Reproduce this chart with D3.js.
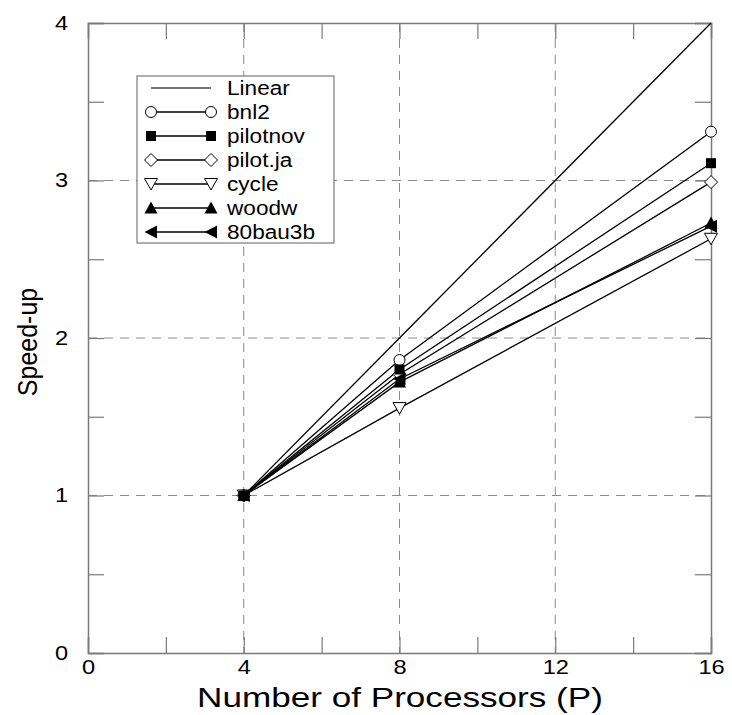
<!DOCTYPE html>
<html>
<head>
<meta charset="utf-8">
<script src="https://cdn.jsdelivr.net/npm/d3@7"></script>
<style>
  body { margin: 0; background: #fff; }
  text { font-family: "Liberation Sans", Arial, sans-serif; fill: #000; }
</style>
</head>
<body>
<script>
// processors and speed-up per problem
const procs = [4, 8, 16];
const linear = [1, 2, 4];
const bnl2 = [1, 1.86, 3.31];
const pilotnov = [1, 1.80, 3.11];
const pilotja = [1, 1.77, 2.99];
const cycle = [1, 1.555, 2.63];
const woodw = [1, 1.72, 2.73];
const bau = [1, 1.74, 2.71];

const xTicks = [0, 4, 8, 12, 16];
const yTicks = [0, 1, 2, 3, 4];

const series = [
    { name: "Linear", vals: linear, sym: null },
    { name: "bnl2", vals: bnl2, sym: "circle" },
    { name: "pilotnov", vals: pilotnov, sym: "square" },
    { name: "pilot.ja", vals: pilotja, sym: "diamond" },
    { name: "cycle", vals: cycle, sym: "tridown" },
    { name: "woodw", vals: woodw, sym: "triup" },
    { name: "80bau3b", vals: bau, sym: "trileft" }
];

const W = 732, H = 715;
const mLeft = 88, mRight = 711, mTop = 23, mBottom = 653;

let svg = d3.select("body").append("svg")
    .attr("width", W)
    .attr("height", H);

let x = d3.scaleLinear().domain([0, 16]).range([mLeft, mRight]);
let y = d3.scaleLinear().domain([0, 4]).range([mBottom, mTop]);

const axisCol = "#7a7a7a";
const gridCol = "#8a8a8a";

// dashed grid at the major values
svg.append("g").selectAll("line")
    .data([4, 8, 12])
    .enter().append("line")
    .attr("x1", d => x(d)).attr("x2", d => x(d))
    .attr("y1", mTop).attr("y2", mBottom)
    .attr("stroke", gridCol).attr("stroke-width", 1)
    .attr("stroke-dasharray", "9,7");
svg.append("g").selectAll("line")
    .data([1, 2, 3])
    .enter().append("line")
    .attr("x1", mLeft).attr("x2", mRight)
    .attr("y1", d => y(d)).attr("y2", d => y(d))
    .attr("stroke", gridCol).attr("stroke-width", 1)
    .attr("stroke-dasharray", "9,7");

// axes: inward ticks on all four sides
const tickLen = 16;
let xb = svg.append("g").attr("transform", `translate(0,${mBottom})`)
    .call(d3.axisBottom(x).tickValues(d3.range(0, 17, 2)).tickSize(-tickLen).tickPadding(7)
        .tickFormat(d => xTicks.includes(d) ? d : ""));
let xt = svg.append("g").attr("transform", `translate(0,${mTop})`)
    .call(d3.axisTop(x).tickValues(d3.range(0, 17, 2)).tickSize(-tickLen).tickFormat(""));
let yl = svg.append("g").attr("transform", `translate(${mLeft},0)`)
    .call(d3.axisLeft(y).tickValues(d3.range(0, 4.01, 0.5)).tickSize(-tickLen).tickPadding(20)
        .tickFormat(d => yTicks.includes(d) ? d : ""));
let yr = svg.append("g").attr("transform", `translate(${mRight},0)`)
    .call(d3.axisRight(y).tickValues(d3.range(0, 4.01, 0.5)).tickSize(-tickLen).tickFormat(""));

[xb, xt, yl, yr].forEach(g => {
    g.select(".domain").attr("stroke", axisCol).attr("stroke-width", 1.5);
    g.selectAll(".tick line").attr("stroke", axisCol).attr("stroke-width", 1.2);
    g.selectAll(".tick text").style("font-size", "20px").attr("fill", "#000")
        .style("font-family", '"Liberation Sans", Arial, sans-serif');
});

// symbols
function drawSym(g, sym, cx, cy) {
    if (sym === "circle") {
        g.append("circle").attr("cx", cx).attr("cy", cy).attr("r", 5.5)
            .attr("fill", "#fff").attr("stroke", "#000").attr("stroke-width", 1);
    } else if (sym === "square") {
        g.append("rect").attr("x", cx - 5).attr("y", cy - 5).attr("width", 10).attr("height", 10)
            .attr("fill", "#000");
    } else if (sym === "diamond") {
        g.append("path").attr("d", `M${cx},${cy - 6.5}L${cx + 6.5},${cy}L${cx},${cy + 6.5}L${cx - 6.5},${cy}Z`)
            .attr("fill", "#fff").attr("stroke", "#000").attr("stroke-width", 1);
    } else if (sym === "tridown") {
        g.append("path").attr("d", `M${cx - 6.5},${cy - 5.5}L${cx + 6.5},${cy - 5.5}L${cx},${cy + 6}Z`)
            .attr("fill", "#fff").attr("stroke", "#000").attr("stroke-width", 1);
    } else if (sym === "triup") {
        g.append("path").attr("d", `M${cx - 6.5},${cy + 5.5}L${cx + 6.5},${cy + 5.5}L${cx},${cy - 6.5}Z`)
            .attr("fill", "#000");
    } else if (sym === "trileft") {
        g.append("path").attr("d", `M${cx + 6},${cy - 6.5}L${cx + 6},${cy + 6.5}L${cx - 6.5},${cy}Z`)
            .attr("fill", "#000");
    }
}

let line = d3.line().x((d, i) => x(procs[i])).y(d => y(d));

let plot = svg.append("g");
series.forEach(s => {
    plot.append("path").attr("d", line(s.vals))
        .attr("fill", "none").attr("stroke", "#000").attr("stroke-width", 1.3);
});
// open markers first, filled ones on top (pilotnov last so it caps the x=4 pile)
const markerOrder = ["bnl2", "pilot.ja", "cycle", "woodw", "80bau3b", "pilotnov"];
markerOrder.forEach(nm => {
    let s = series.find(d => d.name === nm);
    s.vals.forEach((v, i) => drawSym(plot, s.sym, x(procs[i]), y(v)));
});

// legend
let leg = svg.append("g");
leg.append("rect").attr("x", 137).attr("y", 76).attr("width", 197).attr("height", 167)
    .attr("fill", "#fff").attr("stroke", axisCol).attr("stroke-width", 1.2);
series.forEach((s, i) => {
    let ly = 88 + i * 24;
    leg.append("line").attr("x1", 151).attr("x2", 211).attr("y1", ly).attr("y2", ly)
        .attr("stroke", s.sym ? "#000" : "#444").attr("stroke-width", s.sym ? 1.3 : 1.5);
    if (s.sym) {
        drawSym(leg, s.sym, 151, ly);
        drawSym(leg, s.sym, 211, ly);
    }
    leg.append("text").attr("class", "legtext").attr("x", 227).attr("y", ly + 7)
        .style("font-size", "20px").text(s.name);
});

// titles
svg.append("text").attr("class", "xtitle").attr("x", 400).attr("y", 707).attr("text-anchor", "middle")
    .style("font-size", "27px").text("Number of Processors (P)");
svg.append("text").attr("transform", "translate(37,342) scale(1.12,1) rotate(-90)").attr("text-anchor", "middle")
    .style("font-size", "25px").text("Speed-up");

// widen horizontal text like the original rendering
svg.selectAll("text").each(function () {
    let t = d3.select(this);
    if ((t.attr("transform") || "").includes("rotate")) return;
    let len = this.getComputedTextLength();
    let k = t.classed("legtext") ? 1.13 : (t.classed("xtitle") ? 1.3 : 1.18);
    if (len > 0) t.attr("textLength", len * k).attr("lengthAdjust", "spacingAndGlyphs");
});
</script>
</body>
</html>
